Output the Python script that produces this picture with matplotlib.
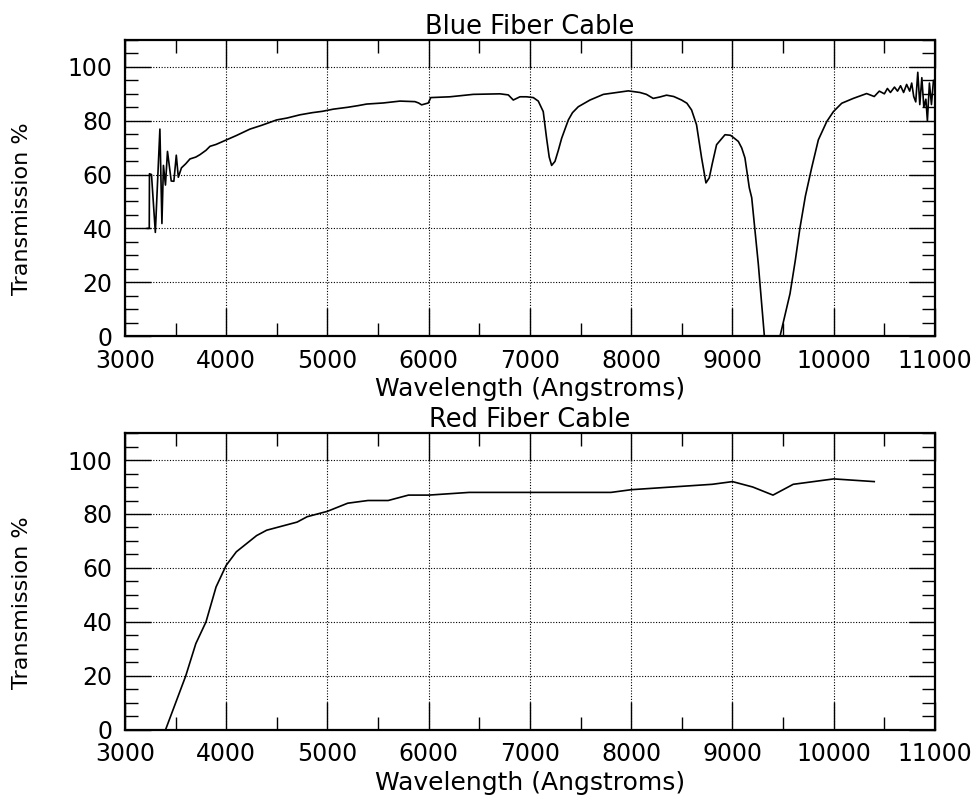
import matplotlib
matplotlib.use("Agg")
import matplotlib.pyplot as plt
from matplotlib.ticker import MultipleLocator

# -----------------------------------------------------
# Data
# -----------------------------------------------------

blue_wl = [3220, 3240, 3242, 3262, 3300, 3345, 3365, 3380, 3400, 3420,
           3457, 3483, 3507, 3527, 3558, 3600, 3642, 3700, 3741, 3800,
           3840, 3900, 4004, 4100, 4235, 4350, 4498, 4600, 4728, 4850,
           4950, 5057, 5200, 5300, 5387, 5550, 5716, 5864, 5900, 5930,
           5996, 6020, 6210, 6440, 6704, 6786, 6835, 6901, 6967, 7033,
           7082, 7131, 7164, 7190, 7214, 7247, 7280, 7313, 7379, 7420,
           7477, 7593, 7725, 7856, 7971, 8086, 8150, 8217, 8280, 8349,
           8420, 8497, 8550, 8596, 8645, 8695, 8738, 8771, 8800, 8843,
           8926, 8980, 9008, 9058, 9091, 9123, 9166, 9190, 9255, 9314,
           9350, 9400, 9440, 9470, 9520, 9568, 9620, 9667, 9720, 9782,
           9848, 9931, 9997, 10079, 10193, 10325, 10400, 10450, 10500, 10530,
           10560, 10600, 10630, 10660, 10690, 10720, 10750, 10770, 10790, 10810,
           10830, 10850, 10870, 10890, 10910, 10925, 10945, 10965, 10985, 11000]

blue_tr = [40.0, 40.0, 60.3, 60.0, 38.5, 76.9, 41.8, 63.4, 56.1, 68.6,
           57.6, 57.5, 67.2, 59.0, 62.5, 64.0, 65.8, 66.5, 67.4, 69.0,
           70.5, 71.2, 72.9, 74.5, 76.9, 78.3, 80.3, 81.0, 82.2, 83.0,
           83.5, 84.3, 85.0, 85.6, 86.2, 86.6, 87.3, 87.1, 86.6, 85.9,
           86.6, 88.6, 88.9, 89.8, 90.0, 89.6, 87.7, 88.9, 88.9, 88.6,
           87.3, 83.4, 73.5, 66.5, 63.4, 64.9, 69.0, 73.5, 80.3, 83.0,
           85.2, 87.7, 89.8, 90.5, 91.1, 90.5, 89.8, 88.3, 88.8, 89.5,
           89.0, 87.7, 86.5, 84.0, 78.5, 66.2, 56.9, 58.8, 64.0, 71.1,
           74.8, 74.6, 73.8, 72.3, 69.9, 66.2, 55.1, 51.4, 26.8, 0.4,
           -10.0, -20.0, -12.0, 0.0, 8.0, 15.7, 28.0, 40.3, 52.0, 62.5,
           72.9, 79.7, 83.4, 86.5, 88.3, 90.1, 89.0, 91.0, 90.0, 92.0,
           90.5, 92.5, 91.0, 93.0, 90.5, 93.5, 91.0, 94.0, 89.0, 87.0,
           98.0, 86.0, 96.0, 85.0, 88.0, 80.0, 94.0, 86.0, 95.0, 95.0]

red_wl = [3400, 3600, 3700, 3800, 3900, 4000, 4100, 4200, 4300, 4400,
          4700, 4800, 5000, 5200, 5400, 5600, 5800, 6000, 6400, 7800,
          8000, 8800, 9000, 9200, 9400, 9600, 10000, 10400]

red_tr = [0, 20, 32, 40, 53, 61, 66, 69, 72, 74,
          77, 79, 81, 84, 85, 85, 87, 87, 88, 88,
          89, 91, 92, 90, 87, 91, 93, 92]

x_ticks = [3000, 4000, 5000, 6000, 7000, 8000, 9000, 10000, 11000]
y_ticks = [0, 20, 40, 60, 80, 100]

# -----------------------------------------------------
# Figure
# -----------------------------------------------------

plt.rcParams["font.family"] = ["DejaVu Sans"]
plt.rcParams["font.size"] = 17

fig = plt.figure(figsize=(9.77, 7.97), dpi=100)
ax_blue = fig.add_axes([0.1279, 0.5784, 0.8291, 0.3714])
ax_red = fig.add_axes([0.1279, 0.0841, 0.8291, 0.3726])

panels = [
    (ax_blue, blue_wl, blue_tr, "Blue Fiber Cable"),
    (ax_red, red_wl, red_tr, "Red Fiber Cable"),
]

for ax, wl, tr, title in panels:
    ax.plot(wl, tr, color="black", linewidth=1.2)

    ax.set_xlim(3000, 11000)
    ax.set_ylim(0, 110)
    ax.set_xticks(x_ticks)
    ax.set_yticks(y_ticks)
    ax.xaxis.set_minor_locator(MultipleLocator(500))
    ax.yaxis.set_minor_locator(MultipleLocator(5))

    ax.tick_params(which="both", direction="in", top=True, right=True,
                   color="black", width=1.0)
    ax.tick_params(axis="x", which="major", length=20, pad=9)
    ax.tick_params(axis="y", which="major", length=19, pad=9)
    ax.tick_params(which="minor", length=9.5)

    ax.grid(True, which="major", color="black", linestyle=(0, (1, 1.5)),
            linewidth=0.8)

    for spine in ax.spines.values():
        spine.set_linewidth(1.6)

    ax.set_title(title, fontsize=18.5, pad=4)
    ax.set_xlabel("Wavelength (Angstroms)", fontsize=18)
    ax.set_ylabel("Transmission %", fontsize=16)
    ax.xaxis.set_label_coords(0.5, -0.138)
    ax.yaxis.set_label_coords(-0.115, 0.43)

fig.savefig("out.png", dpi=100)
